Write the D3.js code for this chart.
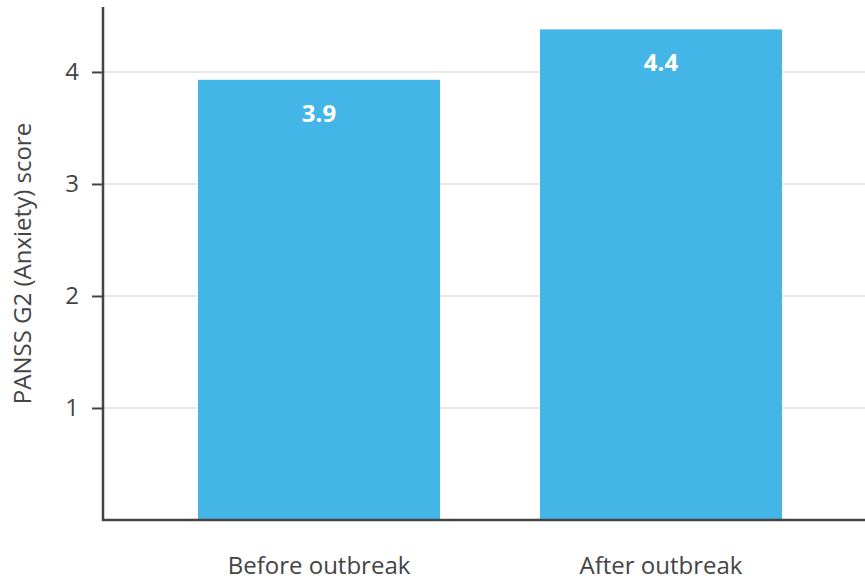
<!DOCTYPE html>
<html>
<head>
<meta charset="utf-8">
<script src="https://cdn.jsdelivr.net/npm/d3@7/dist/d3.min.js"></script>
<style>
  html, body { margin: 0; padding: 0; background: #fff; }
  svg { display: block; font-family: "Open Sans", sans-serif; }
</style>
</head>
<body>
<svg id="chart" width="865" height="579"></svg>
<script>
// PANSS G2 anxiety score before and after the outbreak
const categories = ["Before outbreak", "After outbreak"];
const scores = [3.93, 4.38];
const yTicks = [1, 2, 3, 4];
const yTitle = "PANSS G2 (Anxiety) score";

const svg = d3.select("#chart");
const plot = { left: 103, right: 877, top: 7, bottom: 520 };

const x = d3.scaleBand()
  .domain(categories)
  .range([plot.left, plot.right])
  .paddingInner(0.2924)
  .paddingOuter(0.2778);

const y = d3.scaleLinear()
  .domain([0, 4.58])
  .range([plot.bottom, plot.top]);

// horizontal gridlines
svg.append("g")
  .selectAll("line")
  .data(yTicks)
  .join("line")
  .attr("x1", plot.left).attr("x2", plot.right)
  .attr("y1", d => y(d)).attr("y2", d => y(d))
  .attr("stroke", "#e8e8e8")
  .attr("stroke-width", 2);

// bars
svg.append("g")
  .selectAll("rect")
  .data(categories)
  .join("rect")
  .attr("x", d => x(d))
  .attr("width", x.bandwidth())
  .attr("y", (d, i) => y(scores[i]))
  .attr("height", (d, i) => y(0) - y(scores[i]))
  .attr("fill", "#43b6e7");

// value labels inside bars
svg.append("g")
  .selectAll("text")
  .data(categories)
  .join("text")
  .attr("x", d => x(d) + x.bandwidth() / 2)
  .attr("y", (d, i) => y(scores[i]) + 42)
  .attr("text-anchor", "middle")
  .attr("fill", "#fff")
  .attr("font-weight", 700)
  .attr("font-size", 24)
  .text((d, i) => d3.format(".1f")(scores[i]));

// y axis
const yAxis = svg.append("g")
  .attr("transform", `translate(${plot.left},0)`)
  .call(d3.axisLeft(y).tickValues(yTicks).tickSize(11).tickPadding(13).tickFormat(d3.format("d")));
yAxis.select(".domain").remove();
yAxis.selectAll(".tick line").attr("stroke", "#444").attr("stroke-width", 2);
yAxis.selectAll(".tick text")
  .attr("fill", "#444")
  .attr("font-size", 24)
  .attr("font-family", "Open Sans, sans-serif");
yAxis.append("line")
  .attr("x1", 0).attr("x2", 0)
  .attr("y1", plot.top).attr("y2", plot.bottom + 1)
  .attr("stroke", "#444").attr("stroke-width", 2.5);

// x axis
const xAxis = svg.append("g")
  .attr("transform", `translate(0,${plot.bottom})`)
  .call(d3.axisBottom(x).tickSize(0).tickPadding(37));
xAxis.select(".domain").remove();
xAxis.append("line")
  .attr("x1", plot.left - 1).attr("x2", plot.right)
  .attr("y1", 0).attr("y2", 0)
  .attr("stroke", "#444").attr("stroke-width", 2.5);
xAxis.selectAll(".tick text")
  .attr("fill", "#444")
  .attr("font-size", 24)
  .attr("font-family", "Open Sans, sans-serif");

// y axis title
svg.append("text")
  .attr("transform", `translate(31,${(plot.top + plot.bottom) / 2}) rotate(-90)`)
  .attr("text-anchor", "middle")
  .attr("fill", "#444")
  .attr("font-size", 24)
  .text(yTitle);
</script>
</body>
</html>
